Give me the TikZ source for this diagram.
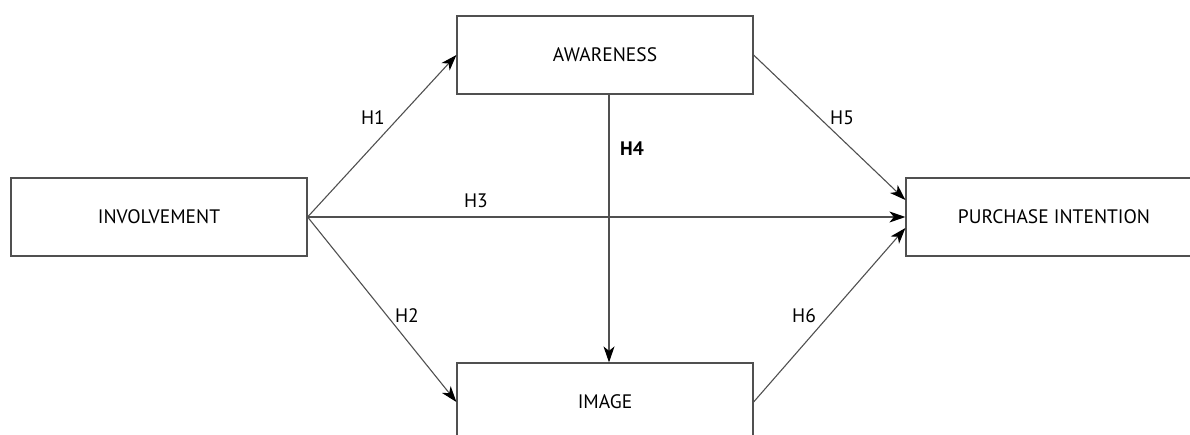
\documentclass[tikz,border=0pt]{standalone}
\usepackage{fontspec}
\setmainfont{PT Sans}
\usetikzlibrary{arrows.meta}
\definecolor{linegray}{HTML}{505050}
\tikzset{
  box/.style={draw=linegray, line width=1.2pt, minimum width=296pt, minimum height=78pt, inner sep=0pt, font=\fontsize{19.5}{23}\selectfont},
  arr/.style={draw=linegray, line width=1.1pt, -{Stealth[length=16pt, width=11pt, inset=4.5pt, color=black, fill=black]}},
  lbl/.style={font=\fontsize{19.5}{23}\selectfont, inner sep=0pt}
}
\begin{document}
\begin{tikzpicture}[x=1pt,y=1pt]
\useasboundingbox (0,0) rectangle (1190,-435);
\node[box] (inv) at (159,-217) {INVOLVEMENT};
\node[box] (aw) at (605,-55) {AWARENESS};
\node[box] (img) at (605,-402) {IMAGE};
\node[box] (pi) at (1054,-217) {PURCHASE INTENTION};
\draw[arr] (inv.east) -- (aw.west);
\draw[arr] (inv.east) -- (img.west);
\draw[arr] (inv.east) -- (pi.west);
\draw[arr] ([xshift=4pt]aw.south) -- ([xshift=4pt]img.north);
\draw[arr] (aw.east) -- ([yshift=17pt]pi.west);
\draw[arr] (img.east) -- ([yshift=-11pt]pi.west);
\node[lbl] (h1) at (373,-118) {H1};
\node[lbl] (h2) at (407,-316) {H2};
\node[lbl] (h3) at (476,-201) {H3};
\node[lbl, font=\fontsize{19.5}{23}\selectfont\bfseries] (h4) at (632,-149) {H4};
\node[lbl] (h5) at (842,-118) {H5};
\node[lbl] (h6) at (804,-316) {H6};
\end{tikzpicture}
\end{document}
